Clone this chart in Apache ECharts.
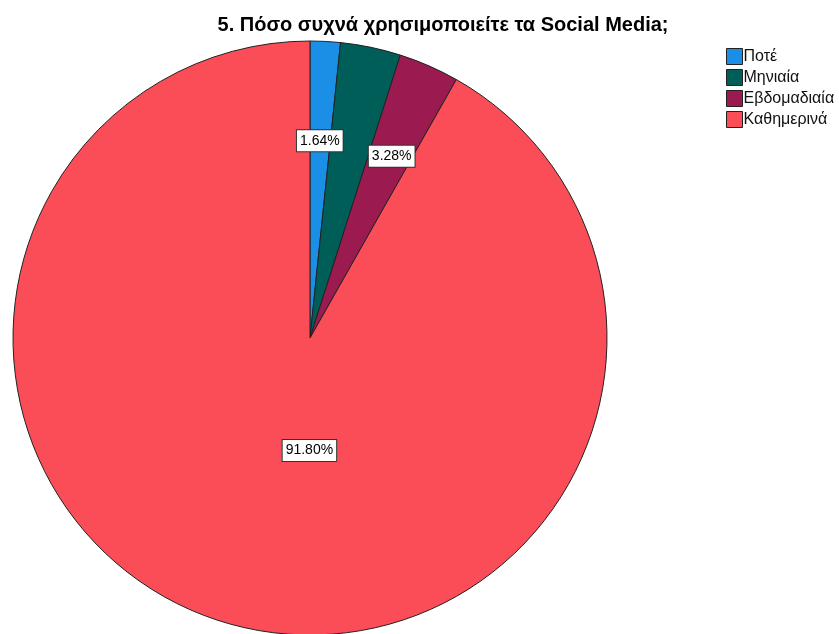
<!DOCTYPE html>
<html>
<head>
<meta charset="utf-8">
<script src="https://cdn.jsdelivr.net/npm/echarts@6/dist/echarts.min.js"></script>
<style>html,body{margin:0;padding:0;background:#fff}#c{width:839px;height:634px}</style>
</head>
<body>
<div id="c"></div>
<script>
const titleText = '5. Πόσο συχνά χρησιμοποιείτε τα Social Media;';
const categories = ['Ποτέ', 'Μηνιαία', 'Εβδομαδιαία', 'Καθημερινά'];
const percentages = [1.64, 3.28, 3.28, 91.80];
const colors = ['#1b8fe6', '#005e58', '#9b1a4f', '#fb4d57'];
const showLabel = [true, false, true, true];
const labelOffsets = [[2, -46], [0, 0], [21, -43], [38, -34]];

const chart = echarts.init(document.getElementById('c'), null, {renderer: 'canvas'});
const data = categories.map((name, i) => ({
  name: name,
  value: percentages[i],
  itemStyle: {color: colors[i]},
  label: {show: showLabel[i], offset: labelOffsets[i]}
}));
chart.setOption({
  animation: false,
  backgroundColor: '#ffffff',
  title: {
    text: titleText,
    left: 438, top: 10, textAlign: 'center',
    textStyle: {fontFamily: 'Liberation Sans, Arial, sans-serif', fontWeight: 'bold', fontSize: 20, color: '#000'}
  },
  legend: {
    orient: 'vertical',
    left: 721, top: 43,
    itemWidth: 16, itemHeight: 16, itemGap: 4,
    icon: 'rect',
    selectedMode: false,
    itemStyle: {borderColor: '#222', borderWidth: 1},
    textStyle: {fontFamily: 'Liberation Sans, Arial, sans-serif', fontSize: 16, color: '#111', padding: [0, 0, 0, -4]},
    data: categories
  },
  series: [{
    type: 'pie',
    center: [310, 338],
    radius: [0, 297],
    startAngle: 90,
    clockwise: true,
    avoidLabelOverlap: false,
    silent: true,
    itemStyle: {borderColor: '#222', borderWidth: 1},
    label: {
      position: 'inside',
      formatter: p => p.value.toFixed(2) + '%',
      fontFamily: 'Liberation Sans, Arial, sans-serif',
      fontSize: 14,
      color: '#000',
      backgroundColor: '#fff',
      borderColor: '#333',
      borderWidth: 1,
      padding: [4, 3, 3, 3]
    },
    labelLine: {show: false},
    data: data
  }]
});
</script>
</body>
</html>
